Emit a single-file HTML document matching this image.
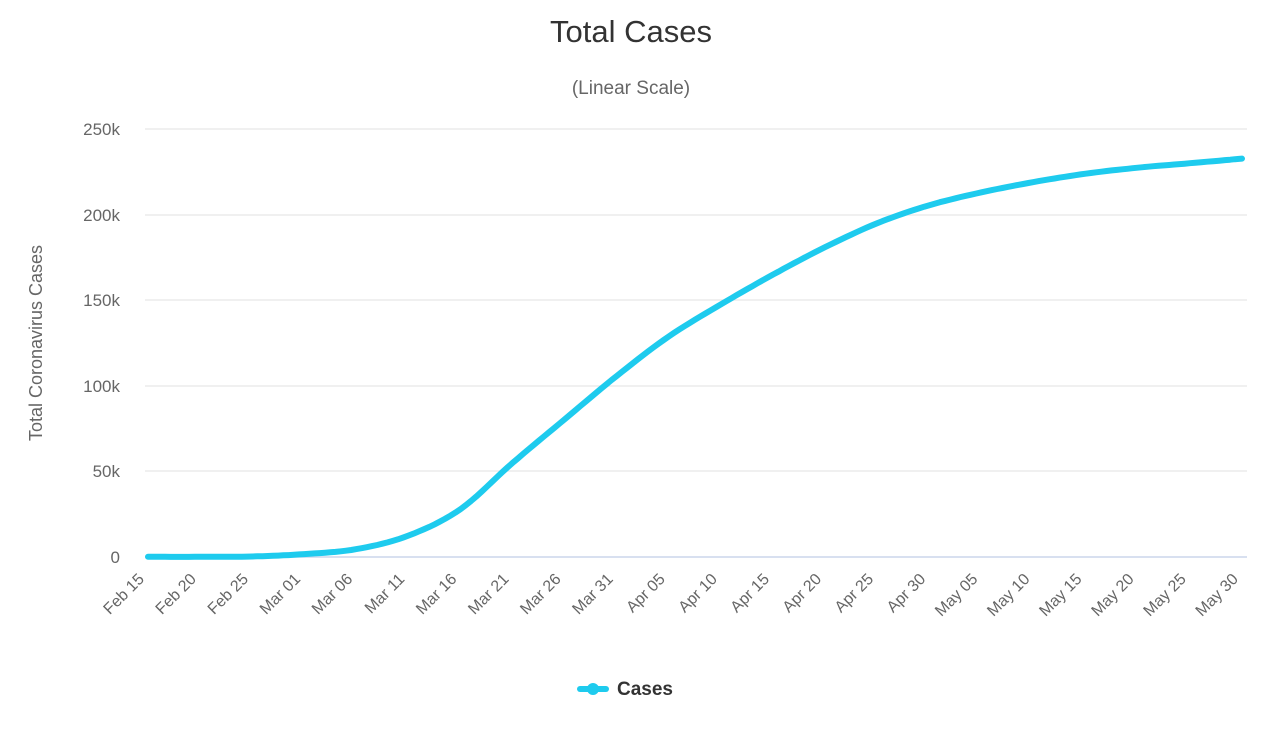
<!DOCTYPE html>
<html><head><meta charset="utf-8"><style>
body{margin:0;background:#fff;}
svg text{font-family:"Liberation Sans",sans-serif;}
</style></head><body>
<svg width="1280" height="725" viewBox="0 0 1280 725" xmlns="http://www.w3.org/2000/svg">
<rect width="1280" height="725" fill="#fff"/>
<text x="631" y="42" text-anchor="middle" font-size="31" fill="#333">Total Cases</text>
<text x="631" y="94" text-anchor="middle" font-size="19" fill="#666">(Linear Scale)</text>
<g stroke="#e6e6e6" stroke-width="1.3">
<line x1="145" x2="1247" y1="129" y2="129"/>
<line x1="145" x2="1247" y1="215" y2="215"/>
<line x1="145" x2="1247" y1="300" y2="300"/>
<line x1="145" x2="1247" y1="386" y2="386"/>
<line x1="145" x2="1247" y1="471" y2="471"/>
</g>
<line x1="145" x2="1247" y1="557" y2="557" stroke="#ccd6eb" stroke-width="1.5"/>
<g font-size="17" fill="#666" text-anchor="end">
<text x="120" y="135">250k</text>
<text x="120" y="221">200k</text>
<text x="120" y="306">150k</text>
<text x="120" y="392">100k</text>
<text x="120" y="477">50k</text>
<text x="120" y="563">0</text>
</g>
<text transform="translate(42,343) rotate(-90)" text-anchor="middle" font-size="18" fill="#666">Total Coronavirus Cases</text>
<g font-size="16" fill="#666" text-anchor="end" id="xl"></g>
<polyline id="ln" fill="none" stroke="#1ecbee" stroke-width="6" stroke-linejoin="round" stroke-linecap="round"/>
<line x1="580" x2="606" y1="689" y2="689" stroke="#1ecbee" stroke-width="6" stroke-linecap="round"/>
<circle cx="593" cy="689" r="6" fill="#1ecbee"/>
<text x="617" y="695" font-size="19" font-weight="bold" fill="#333">Cases</text>
</svg>
<script>
var labels=["Feb 15","Feb 20","Feb 25","Mar 01","Mar 06","Mar 11","Mar 16","Mar 21","Mar 26","Mar 31","Apr 05","Apr 10","Apr 15","Apr 20","Apr 25","Apr 30","May 05","May 10","May 15","May 20","May 25","May 30"];
var vals=[0.1,0.1,0.3,1.7,4.6,12.5,28,55,80.5,105.8,128.9,147.6,165,181,195,205.5,213,219,223.9,227.4,230,232.7];
var x0=148,dx=(1242-148)/21,g=document.getElementById('xl'),pts=[];
labels.forEach(function(l,i){var x=x0+i*dx;
var t=document.createElementNS("http://www.w3.org/2000/svg","text");
t.setAttribute("transform","translate("+(x-3)+",580) rotate(-45)");t.textContent=l;g.appendChild(t);});
function P(i){i=Math.max(0,Math.min(21,i));return [x0+i*dx,557-vals[i]*85.6/50];}
for(var i=0;i<21;i++){var p0=P(i-1),p1=P(i),p2=P(i+1),p3=P(i+2);
for(var s=0;s<10;s++){var t=s/10,t2=t*t,t3=t2*t;
var f=function(a,b,c,d){return 0.5*((2*b)+(-a+c)*t+(2*a-5*b+4*c-d)*t2+(-a+3*b-3*c+d)*t3);};
pts.push(f(p0[0],p1[0],p2[0],p3[0]).toFixed(1)+","+f(p0[1],p1[1],p2[1],p3[1]).toFixed(1));}}
var e=P(21);pts.push(e[0]+","+e[1]);
document.getElementById('ln').setAttribute("points",pts.join(" "));
</script>
</body></html>
